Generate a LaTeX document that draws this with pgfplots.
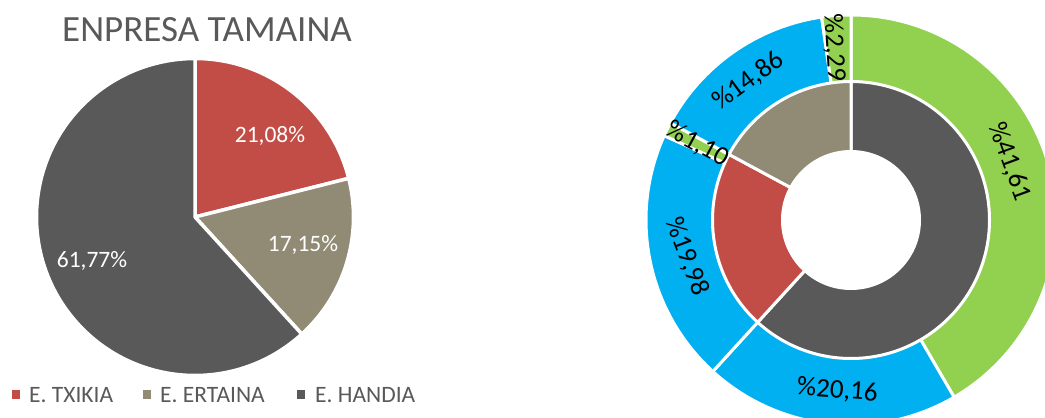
\documentclass[border=0pt]{standalone}
\usepackage{pgfplots}
\usepackage{pgfplotstable}
\pgfplotsset{compat=1.18}
\usepackage{fontspec}
\setmainfont{Carlito}

\definecolor{cred}{HTML}{C24C46}
\definecolor{ctan}{HTML}{918B76}
\definecolor{cdark}{HTML}{595959}
\definecolor{cgreen}{HTML}{92D050}
\definecolor{cblue}{HTML}{00B0F0}
\definecolor{ctext}{HTML}{595959}

% Left pie: ENPRESA TAMAINA
\pgfplotstableread{
label value
TXIKIA 21.08
ERTAINA 17.15
HANDIA 61.77
}\pietable

% Right donut, outer ring (clockwise from top)
\pgfplotstableread{
label value
G1 41.61
B1 20.16
B2 19.98
G2 1.10
B3 14.86
G3 2.29
}\outertable

\pgfplotstablegetelem{0}{value}\of\pietable \let\valTx\pgfplotsretval
\pgfplotstablegetelem{1}{value}\of\pietable \let\valEr\pgfplotsretval
\pgfplotstablegetelem{2}{value}\of\pietable \let\valHa\pgfplotsretval
\pgfplotstablegetelem{0}{value}\of\outertable \let\valOne\pgfplotsretval
\pgfplotstablegetelem{1}{value}\of\outertable \let\valTwo\pgfplotsretval
\pgfplotstablegetelem{2}{value}\of\outertable \let\valThree\pgfplotsretval
\pgfplotstablegetelem{3}{value}\of\outertable \let\valFour\pgfplotsretval
\pgfplotstablegetelem{4}{value}\of\outertable \let\valFive\pgfplotsretval
\pgfplotstablegetelem{5}{value}\of\outertable \let\valSix\pgfplotsretval
% pie angles (clockwise from 90)
\pgfmathsetmacro\angPa{90}
\pgfmathsetmacro\angPb{\angPa-3.6*\valTx}
\pgfmathsetmacro\angPc{\angPb-3.6*\valEr}
\pgfmathsetmacro\angPd{\angPc-3.6*\valHa}
% inner ring: HANDIA, TXIKIA, ERTAINA
\pgfmathsetmacro\angIa{90}
\pgfmathsetmacro\angIb{\angIa-3.6*\valHa}
\pgfmathsetmacro\angIc{\angIb-3.6*\valTx}
\pgfmathsetmacro\angId{\angIc-3.6*\valEr}
% outer ring
\pgfmathsetmacro\angOa{90}
\pgfmathsetmacro\angOb{\angOa-3.6*\valOne}
\pgfmathsetmacro\angOc{\angOb-3.6*\valTwo}
\pgfmathsetmacro\angOd{\angOc-3.6*\valThree}
\pgfmathsetmacro\angOe{\angOd-3.6*\valFour}
\pgfmathsetmacro\angOf{\angOe-3.6*\valFive}
\pgfmathsetmacro\angOg{\angOf-3.6*\valSix}
% label angles (segment mid angles, small nudges as in the reference)
\pgfmathsetmacro\midOne{(\angOa+\angOb)/2+5}
\pgfmathsetmacro\midTwo{(\angOb+\angOc)/2+1.5}
\pgfmathsetmacro\midThree{(\angOc+\angOd)/2+1}
\pgfmathsetmacro\midFour{(\angOd+\angOe)/2}
\pgfmathsetmacro\midFive{(\angOe+\angOf)/2+1.5}
\pgfmathsetmacro\midSix{(\angOf+\angOg)/2+1.5}

\begin{document}
\begin{tikzpicture}
\begin{axis}[
  x=1pt, y=1pt, xmin=0, xmax=1045, ymin=0, ymax=418,
  disabledatascaling, hide axis, clip=false,
  anchor=south west, at={(0,0)},
]
% ---- left pie ----
\def\pcx{195}\def\pcy{201}\def\pr{158.5}
\filldraw[fill=cred, draw=white, line width=3.5pt, line join=round]
  (axis cs:\pcx,\pcy) -- (axis cs:{\pcx+\pr*cos(\angPa)},{\pcy+\pr*sin(\angPa)})
  arc[start angle=\angPa, end angle=\angPb, radius=\pr pt] -- cycle;
\filldraw[fill=ctan, draw=white, line width=3.5pt, line join=round]
  (axis cs:\pcx,\pcy) -- (axis cs:{\pcx+\pr*cos(\angPb)},{\pcy+\pr*sin(\angPb)})
  arc[start angle=\angPb, end angle=\angPc, radius=\pr pt] -- cycle;
\filldraw[fill=cdark, draw=white, line width=3.5pt, line join=round]
  (axis cs:\pcx,\pcy) -- (axis cs:{\pcx+\pr*cos(\angPc)},{\pcy+\pr*sin(\angPc)})
  arc[start angle=\angPc, end angle=\angPd, radius=\pr pt] -- cycle;
\node[white, anchor=base, font=\fontsize{23.5}{26}\selectfont] at (axis cs:270,275) {21,08\%};
\node[white, anchor=base, font=\fontsize{23.5}{26}\selectfont] at (axis cs:303,166) {17,15\%};
\node[white, anchor=base, font=\fontsize{23.5}{26}\selectfont] at (axis cs:92,150) {61,77\%};
% title
\node[ctext, anchor=base, font=\fontsize{37}{40}\selectfont] at (axis cs:207,376) {ENPRESA TAMAINA};
% legend
\fill[cred] (axis cs:11.8,19.3) rectangle (axis cs:20.3,27.8);
\node[ctext, anchor=base west, inner sep=0pt, font=\fontsize{23.5}{26}\selectfont] at (axis cs:29,16) {E. TXIKIA};
\fill[ctan] (axis cs:142.8,19.3) rectangle (axis cs:151.3,27.8);
\node[ctext, anchor=base west, inner sep=0pt, font=\fontsize{23.5}{26}\selectfont] at (axis cs:160,16) {E. ERTAINA};
\fill[cdark] (axis cs:296.8,19.3) rectangle (axis cs:305.3,27.8);
\node[ctext, anchor=base west, inner sep=0pt, font=\fontsize{23.5}{26}\selectfont] at (axis cs:315,16) {E. HANDIA};
% ---- right donut ----
\def\dcx{851}\def\dcy{198}\def\ro{205}\def\ri{138.5}
\filldraw[fill=cgreen, draw=white, line width=3pt, line join=round]
  (axis cs:\dcx,\dcy) -- (axis cs:{\dcx+\ro*cos(\angOa)},{\dcy+\ro*sin(\angOa)})
  arc[start angle=\angOa, end angle=\angOb, radius=\ro pt] -- cycle;
\filldraw[fill=cblue, draw=white, line width=3pt, line join=round]
  (axis cs:\dcx,\dcy) -- (axis cs:{\dcx+\ro*cos(\angOb)},{\dcy+\ro*sin(\angOb)})
  arc[start angle=\angOb, end angle=\angOc, radius=\ro pt] -- cycle;
\filldraw[fill=cblue, draw=white, line width=3pt, line join=round]
  (axis cs:\dcx,\dcy) -- (axis cs:{\dcx+\ro*cos(\angOc)},{\dcy+\ro*sin(\angOc)})
  arc[start angle=\angOc, end angle=\angOd, radius=\ro pt] -- cycle;
\filldraw[fill=cgreen, draw=white, line width=3pt, line join=round]
  (axis cs:\dcx,\dcy) -- (axis cs:{\dcx+\ro*cos(\angOd)},{\dcy+\ro*sin(\angOd)})
  arc[start angle=\angOd, end angle=\angOe, radius=\ro pt] -- cycle;
\filldraw[fill=cblue, draw=white, line width=3pt, line join=round]
  (axis cs:\dcx,\dcy) -- (axis cs:{\dcx+\ro*cos(\angOe)},{\dcy+\ro*sin(\angOe)})
  arc[start angle=\angOe, end angle=\angOf, radius=\ro pt] -- cycle;
\filldraw[fill=cgreen, draw=white, line width=3pt, line join=round]
  (axis cs:\dcx,\dcy) -- (axis cs:{\dcx+\ro*cos(\angOf)},{\dcy+\ro*sin(\angOf)})
  arc[start angle=\angOf, end angle=\angOg, radius=\ro pt] -- cycle;
% inner ring
\filldraw[fill=cdark, draw=white, line width=3pt, line join=round]
  (axis cs:\dcx,\dcy) -- (axis cs:{\dcx+\ri*cos(\angIa)},{\dcy+\ri*sin(\angIa)})
  arc[start angle=\angIa, end angle=\angIb, radius=\ri pt] -- cycle;
\filldraw[fill=cred, draw=white, line width=3pt, line join=round]
  (axis cs:\dcx,\dcy) -- (axis cs:{\dcx+\ri*cos(\angIb)},{\dcy+\ri*sin(\angIb)})
  arc[start angle=\angIb, end angle=\angIc, radius=\ri pt] -- cycle;
\filldraw[fill=ctan, draw=white, line width=3pt, line join=round]
  (axis cs:\dcx,\dcy) -- (axis cs:{\dcx+\ri*cos(\angIc)},{\dcy+\ri*sin(\angIc)})
  arc[start angle=\angIc, end angle=\angId, radius=\ri pt] -- cycle;
\fill[white] (axis cs:\dcx,\dcy) circle[radius=70pt];
% outer labels
\def\rl{171}
\node[black, rotate=\midOne-90, font=\fontsize{27}{29}\selectfont]
  at (axis cs:{\dcx+169*cos(\midOne)},{\dcy+169*sin(\midOne)}) {\%41,61};
\node[black, rotate=\midTwo+90, font=\fontsize{27}{29}\selectfont]
  at (axis cs:{\dcx+\rl*cos(\midTwo)},{\dcy+\rl*sin(\midTwo)}) {\%20,16};
\node[black, rotate=\midThree+98, font=\fontsize{27}{29}\selectfont]
  at (axis cs:{\dcx+168*cos(\midThree)},{\dcy+168*sin(\midThree)}) {\%19,98};
\node[black, rotate=\midFour+178, font=\fontsize{27}{29}\selectfont]
  at (axis cs:{\dcx+\rl*cos(\midFour)},{\dcy+\rl*sin(\midFour)}) {\%1,10};
\node[black, rotate=\midFive+270, font=\fontsize{27}{29}\selectfont]
  at (axis cs:{\dcx+173*cos(\midFive)},{\dcy+173*sin(\midFive)}) {\%14,86};
\node[black, rotate=\midSix+178, font=\fontsize{27}{29}\selectfont]
  at (axis cs:{\dcx+173*cos(\midSix)},{\dcy+173*sin(\midSix)}) {\%2,29};
\end{axis}
\pgfresetboundingbox
\path[use as bounding box] (0,0) rectangle (1045pt,418pt);
\end{tikzpicture}
\end{document}
